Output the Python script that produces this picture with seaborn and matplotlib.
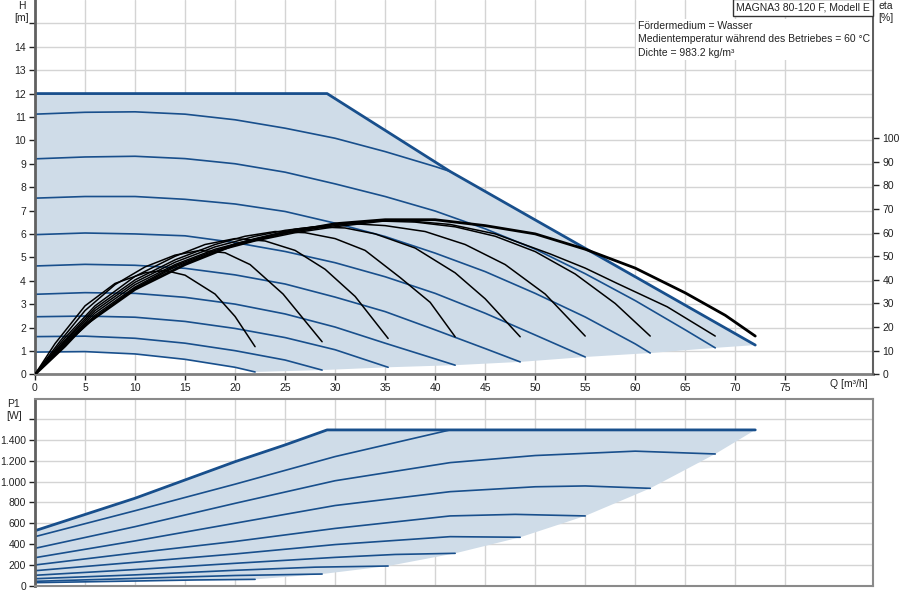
import numpy as np
import pandas as pd
import matplotlib
matplotlib.use("Agg")
import matplotlib.pyplot as plt
import seaborn as sns

# ---- head curves H [m] vs Q [m3/h] ----
q_hmax = [0, 29.2, 41.5, 50, 60, 72]
h_max = [12, 12, 8.67, 6.6, 4.17, 1.25]

q_h11 = [0, 5, 10, 15, 20, 25, 30, 35, 40, 41.5]
h_11 = [11.12, 11.2, 11.22, 11.12, 10.88, 10.52, 10.09, 9.52, 8.88, 8.67]
q_h9 = [0, 5, 10, 15, 20, 25, 30, 35, 40, 45, 50, 55, 60, 65, 68]
h_9 = [9.21, 9.29, 9.32, 9.22, 9.0, 8.64, 8.14, 7.6, 6.98, 6.22, 5.35, 4.3, 3.15, 1.9, 1.13]
q_h7 = [0, 5, 10, 15, 20, 25, 30, 35, 40, 45, 50, 55, 60, 61.5]
h_7 = [7.53, 7.6, 7.6, 7.48, 7.28, 6.96, 6.46, 5.89, 5.18, 4.39, 3.46, 2.45, 1.3, 0.91]
q_h6 = [0, 5, 10, 15, 20, 25, 30, 35, 40, 45, 50, 55]
h_6 = [5.97, 6.04, 6.0, 5.92, 5.63, 5.25, 4.77, 4.17, 3.46, 2.61, 1.68, 0.74]
q_h4 = [0, 5, 10, 15, 20, 25, 30, 35, 40, 45, 48.5]
h_4 = [4.63, 4.7, 4.66, 4.53, 4.25, 3.86, 3.3, 2.68, 1.9, 1.1, 0.53]
q_h3 = [0, 5, 10, 15, 20, 25, 30, 35, 40, 42]
h_3 = [3.42, 3.49, 3.46, 3.29, 3.0, 2.58, 2.02, 1.33, 0.66, 0.39]
q_h2 = [0, 5, 10, 15, 20, 25, 30, 35.3]
h_2 = [2.46, 2.49, 2.44, 2.26, 1.96, 1.57, 1.05, 0.3]
q_h1 = [0, 5, 10, 15, 20, 25, 28.7]
h_1 = [1.61, 1.63, 1.54, 1.33, 1.01, 0.61, 0.18]
q_h0 = [0, 5, 10, 15, 20, 22]
h_0 = [0.95, 0.97, 0.87, 0.64, 0.3, 0.1]

# lower edge of the operating range (curve end points)
q_edge = [22, 28.7, 35.3, 42, 48.5, 55, 61.5, 68, 72]
h_edge = [0.1, 0.18, 0.3, 0.39, 0.53, 0.74, 0.91, 1.13, 1.25]

# ---- efficiency curves eta [%] ----
q_e1 = [0, 2, 5, 8, 11, 13, 15, 18, 20, 22]
e_1 = [0, 13, 29, 38.5, 43, 44, 42, 34, 24.5, 11.7]
q_e2 = [0, 2.5, 5, 8, 11, 14, 16.5, 19, 21.5, 24.8, 28.7]
e_2 = [0, 14, 27, 38, 45.5, 50.5, 52.5, 51.5, 46.5, 34, 13.8]
q_e3 = [0, 3, 6, 10, 14, 17, 20, 23, 26, 29, 32, 35.3]
e_3 = [0, 15.5, 29, 41.5, 50, 55, 57.5, 56.5, 52.5, 44.5, 33, 15.2]
q_e4 = [0, 3, 6, 10, 14, 18, 21, 24, 27, 30, 33, 36.5, 39.5, 42]
e_4 = [0, 14.5, 28, 40, 48.5, 55, 58.5, 60.5, 60, 57.5, 52.5, 41, 30.5, 15.9]
q_e5 = [0, 3, 6, 10, 14, 18, 22, 25, 28, 31, 34, 38, 42, 45, 48.5]
e_5 = [0, 14, 27, 39, 47.5, 54, 58.5, 61, 62.5, 62, 59.5, 53.5, 43, 32, 15.9]
q_e6 = [0, 3, 6, 10, 14, 18, 22, 26, 31, 35, 39, 43, 47, 51, 55]
e_6 = [0, 13.5, 26, 38, 46.5, 53, 57.5, 61.5, 64, 63, 60.5, 55, 46.5, 34, 16.2]
q_e7 = [0, 3, 6, 10, 14, 18, 22, 26, 30, 34, 38, 42, 46, 50, 54, 58, 61.5]
e_7 = [0, 13, 25, 37, 46, 52.5, 57, 60.5, 63, 65, 64.5, 62.5, 58.5, 52, 42.5, 30, 16.2]
q_e8 = [0, 3, 6, 10, 14, 18, 22, 26, 30, 36, 41.5, 46, 51.5, 55, 58.2, 63.2, 68]
e_8 = [0, 12.5, 24, 36.5, 45.5, 52, 56.5, 60, 62.5, 65.5, 63.5, 59.5, 51, 45, 38.5, 28.6, 16.2]
q_emax = [0, 3, 5, 10, 15, 20, 25, 30, 35, 40, 45, 50, 55, 60, 65, 69, 72]
e_max = [0, 12, 21, 36, 46.5, 55, 60, 63.8, 65.5, 65.5, 63, 59.5, 53, 45, 34.5, 25, 16.2]

# ---- power curves P1 [W] ----
q_pmax = [0, 10, 20, 25, 29.2, 72]
p_max = [528, 840, 1191, 1352, 1496, 1496]
q_p11 = [0, 10, 20, 30, 41.5]
p_11 = [471, 720, 975, 1240, 1496]
q_p9 = [0, 10, 20, 30, 41.5, 50, 60, 68]
p_9 = [359, 567, 791, 1008, 1182, 1250, 1292, 1265]
q_p7 = [0, 10, 20, 30, 41.5, 50, 55, 61.5]
p_7 = [269, 430, 600, 770, 903, 950, 958, 935]
q_p6 = [0, 10, 20, 30, 41.5, 48, 55]
p_6 = [199, 315, 425, 550, 670, 685, 670]
q_p4 = [0, 10, 20, 30, 41.5, 48.5]
p_4 = [144, 225, 305, 395, 471, 465]
q_p3 = [0, 10, 20, 30, 36, 42]
p_3 = [100, 155, 215, 272, 300, 311]
q_p2 = [0, 10, 20, 28, 35.3]
p_2 = [67, 104, 148, 178, 189]
q_p1 = [0, 10, 20, 28.7]
p_1 = [42, 70, 98, 112]
q_p0 = [0, 10, 16, 22]
p_0 = [29, 45, 55, 61]

p_edge = [61, 112, 189, 311, 465, 670, 935, 1265, 1496]

x_ticks = list(range(0, 80, 5))
h_ticks = list(range(0, 16))
eta_ticks = list(range(0, 110, 10))
p_ticks = list(range(0, 1800, 200))

BLUE = "#184f8c"
FILL = "#cfdce8"
GRID = "#d4d4d4"
FS = 7.5

sns.set_theme(style="whitegrid", rc={"grid.color": GRID, "grid.linewidth": 1.0,
                                      "axes.edgecolor": "#707070"})
plt.rcParams["font.family"] = ["Liberation Sans", "DejaVu Sans"]

fig = plt.figure(figsize=(9, 6), dpi=100)
ax = fig.add_axes([35 / 900, 1 - 374.3 / 600, 838.3 / 900, 374.3 / 600])
ax2 = ax.twinx()
axp = fig.add_axes([35 / 900, 14.3 / 600, 838.3 / 900, 186.4 / 600])


def line(a, xs, ys, color=BLUE, lw=1.2):
    sns.lineplot(x=xs, y=ys, ax=a, color=color, lw=lw, sort=False, estimator=None)


# ---- top panel: head ----
poly_q = q_h0 + q_edge[1:] + q_hmax[::-1]
poly_h = h_0 + h_edge[1:] + h_max[::-1]
ax.fill(poly_q, poly_h, color=FILL, lw=0, zorder=1)
for xs, ys in [(q_h11, h_11), (q_h9, h_9), (q_h7, h_7), (q_h6, h_6), (q_h4, h_4),
               (q_h3, h_3), (q_h2, h_2), (q_h1, h_1), (q_h0, h_0)]:
    line(ax, xs, ys)
line(ax, q_hmax, h_max, lw=2)

ax.set_xlim(0, 83.8)
ax.set_ylim(0, 16)
ax.set_xticks(x_ticks)
ax.set_xticklabels([str(v) for v in x_ticks])
ax.set_yticks(h_ticks)
ax.set_yticklabels([str(v) if v <= 14 else "" for v in h_ticks])
ax.set_xlabel("")
ax.set_ylabel("")

# efficiency on right axis
for xs, ys in [(q_e1, e_1), (q_e2, e_2), (q_e3, e_3), (q_e4, e_4), (q_e5, e_5),
               (q_e6, e_6), (q_e7, e_7), (q_e8, e_8)]:
    line(ax2, xs, ys, color="black", lw=1.1)
line(ax2, q_emax, e_max, color="black", lw=2)
ax2.set_ylim(0, 158.6)
ax2.set_yticks(eta_ticks)
ax2.set_yticklabels([str(v) for v in eta_ticks])
ax2.grid(False)
ax2.set_ylabel("")

# ---- bottom panel: power ----
ppoly_q = q_p0 + q_edge[1:] + q_pmax[::-1]
ppoly_p = p_0 + p_edge[1:] + p_max[::-1]
axp.fill(ppoly_q, ppoly_p, color=FILL, lw=0, zorder=1)
for xs, ys in [(q_p11, p_11), (q_p9, p_9), (q_p7, p_7), (q_p6, p_6), (q_p4, p_4),
               (q_p3, p_3), (q_p2, p_2), (q_p1, p_1), (q_p0, p_0)]:
    line(axp, xs, ys)
line(axp, q_pmax, p_max, lw=2)
axp.set_xlim(0, 83.8)
axp.set_ylim(0, 1790)
axp.set_xticks(x_ticks)
axp.set_xticklabels([])
axp.set_yticks(p_ticks)
axp.set_yticklabels([f"{v:,}".replace(",", ".") if v < 1600 else "" for v in p_ticks])
axp.set_xlabel("")
axp.set_ylabel("")

# ---- styling ----
for a in (ax, ax2, axp):
    a.tick_params(labelsize=FS, colors="#222222", length=4, width=1, direction="out", pad=2.5)
ax.tick_params(axis="both", bottom=True, left=True)
ax2.tick_params(axis="y", right=True)
axp.tick_params(axis="y", left=True)
axp.tick_params(axis="x", bottom=False)

ax.spines["top"].set_visible(False)
ax2.spines["top"].set_visible(False)
ax.spines["right"].set_visible(False)
ax2.spines["left"].set_visible(False)
ax2.spines["bottom"].set_visible(False)
ax.spines["left"].set_color("#606060")
ax.spines["left"].set_linewidth(2)
ax.spines["bottom"].set_color("#808080")
ax.spines["bottom"].set_linewidth(2)
ax2.spines["right"].set_color("#606060")
ax2.spines["right"].set_linewidth(1.5)
for s in axp.spines.values():
    s.set_color("#8a8a8a")
    s.set_linewidth(1.5)
axp.spines["left"].set_color("#606060")
axp.spines["left"].set_linewidth(2)

# ---- texts ----
def ftext(x, y, s, **kw):
    fig.text(x / 900, 1 - y / 600, s, fontsize=FS, color="#222222", **kw)


ftext(22, 6, "H", ha="center", va="center")
ftext(22, 18, "[m]", ha="center", va="center")
ftext(886, 6, "eta", ha="center", va="center")
ftext(886, 18, "[%]", ha="center", va="center")
ftext(868, 384, "Q [m³/h]", ha="right", va="center")
ftext(14, 404, "P1", ha="center", va="center")
ftext(14, 416, "[W]", ha="center", va="center")
ftext(802.5, 7.5, "MAGNA3 80-120 F, Modell E", ha="center", va="center",
      bbox=dict(boxstyle="square,pad=0.3", fc="white", ec="#333333", lw=1))
ftext(638, 39.5, "Fördermedium = Wasser\nMedientemperatur während des Betriebes = 60 °C\n"
      "Dichte = 983.2 kg/m³", ha="left", va="center", linespacing=1.4,
      bbox=dict(boxstyle="square,pad=0.2", fc="white", ec="none"))

fig.savefig("out.png", dpi=100)
